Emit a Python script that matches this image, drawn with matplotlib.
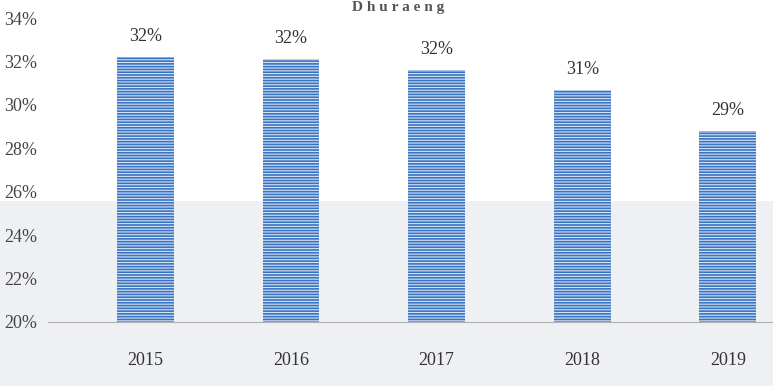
import matplotlib.pyplot as plt

# Data
years = ['2015', '2016', '2017', '2018', '2019']
shares = [32.2, 32.1, 31.6, 30.7, 28.8]
share_labels = ['32%', '32%', '32%', '31%', '29%']
y_ticks = [20, 22, 24, 26, 28, 30, 32, 34]

plt.rcParams['font.family'] = ['Liberation Serif', 'DejaVu Serif']
plt.rcParams['hatch.linewidth'] = 0.8

fig = plt.figure(figsize=(7.73, 3.86), dpi=100)
fig.patch.set_facecolor('white')

# background layer: light grey band of the scan
bg = fig.add_axes([0, 0, 1, 1], zorder=-1)
bg.set_xlim(0, 1)
bg.set_ylim(0, 1)
bg.axis('off')
bg.axhspan(0, 0.48, color='#eef0f3', lw=0)

ax = fig.add_axes([0.062, 0.166, 0.938, 0.787])
ax.patch.set_alpha(0)

x = range(len(years))
ax.bar(x, [s - 20 for s in shares], bottom=20, width=0.39, color='#3a73c2',
       edgecolor='#d3e2f4', hatch='------', linewidth=0, zorder=2)

for i, (s, lbl) in enumerate(zip(shares, share_labels)):
    ax.text(i, s + 0.55, lbl, ha='center', va='bottom', fontsize=13, color='#333333')

ax.set_ylim(20, 34)
ax.set_xlim(-0.67, 4.31)
ax.set_yticks(y_ticks)
ax.set_yticklabels([f'{t}%' for t in y_ticks], fontsize=13, color='#444444')
ax.set_xticks(list(x))
ax.set_xticklabels(years, fontsize=13, color='#333333')
ax.tick_params(axis='both', length=0)
ax.tick_params(axis='x', pad=22)
ax.tick_params(axis='y', pad=8)

for side in ['top', 'right', 'left']:
    ax.spines[side].set_visible(False)
ax.spines['bottom'].set_color('#b0b0b0')
ax.spines['bottom'].set_linewidth(0.8)

# title at the top edge of the scan
fig.text(0.515, 0.998, 'D h u r a e n g', ha='center', va='top', fontsize=11,
         fontweight='bold', color='#555555')

fig.savefig('out.png', dpi=100)
